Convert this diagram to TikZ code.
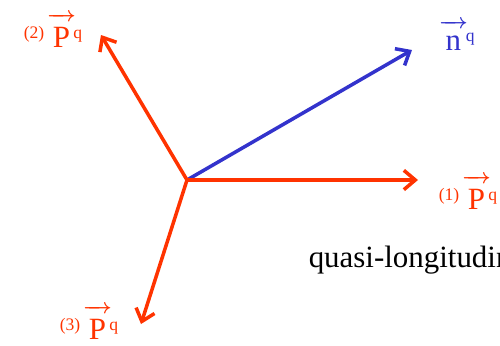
\documentclass[tikz,border=0pt]{standalone}
\usepackage{fontspec}
\setmainfont{Liberation Serif}
\usetikzlibrary{arrows.meta}
\definecolor{cred}{RGB}{255,51,0}
\definecolor{cblue}{RGB}{51,51,204}
\tikzset{vecfig/.style={x=0.02cm,y=-0.02cm,line width=2pt},
  ray/.style={-{Straight Barb[length=6.5pt,width=11pt]},line join=miter},
  lab/.style={inner sep=0pt,anchor=base west}}
\newcommand\vecq[4]{{\fontsize{13}{12}\selectfont\boldmath$\overrightarrow{\hbox to 16.5pt{\hss\fontsize{#2}{12}\selectfont\rule{0pt}{#4}#1\hss}}$}\kern#3\raisebox{5pt}{\fontsize{10}{10}\selectfont q}}
\newcommand\pvec[1]{\raisebox{5pt}{\fontsize{10}{10}\selectfont(#1)}\kern1.5pt\vecq{P}{17.6}{-1.4pt}{15.3pt}}

\begin{document}
\begin{tikzpicture}[vecfig]
    \useasboundingbox (0,0) rectangle (500,345);
    \clip (0,0) rectangle (500,345);
    \coordinate (o) at (187,180);
    \coordinate (t1) at (418,180);
    \coordinate (t2) at (101,35);
    \coordinate (t3) at (141,324);
    \coordinate (tn) at (412,50);
    \draw[ray,cblue] (o) -- (tn);
    \draw[ray,cred] (o) -- (t1);
    \draw[ray,cred] (o) -- (t2);
    \draw[ray,cred] (o) -- (t3);
    \node[lab,cred] (p1) at (437,209) {\pvec{1}};
    \node[lab,cred] (p2) at (22,47) {\pvec{2}};
    \node[lab,cred] (p3) at (58,339) {\pvec{3}};
    \node[lab,cblue] (nq) at (437,50) {\vecq{n}{17.6}{-1.1pt}{13pt}};
    \node[lab,font=\fontsize{17.6}{20}\selectfont] (ql) at (307,267) {quasi-longitudinal};
\end{tikzpicture}
\end{document}
